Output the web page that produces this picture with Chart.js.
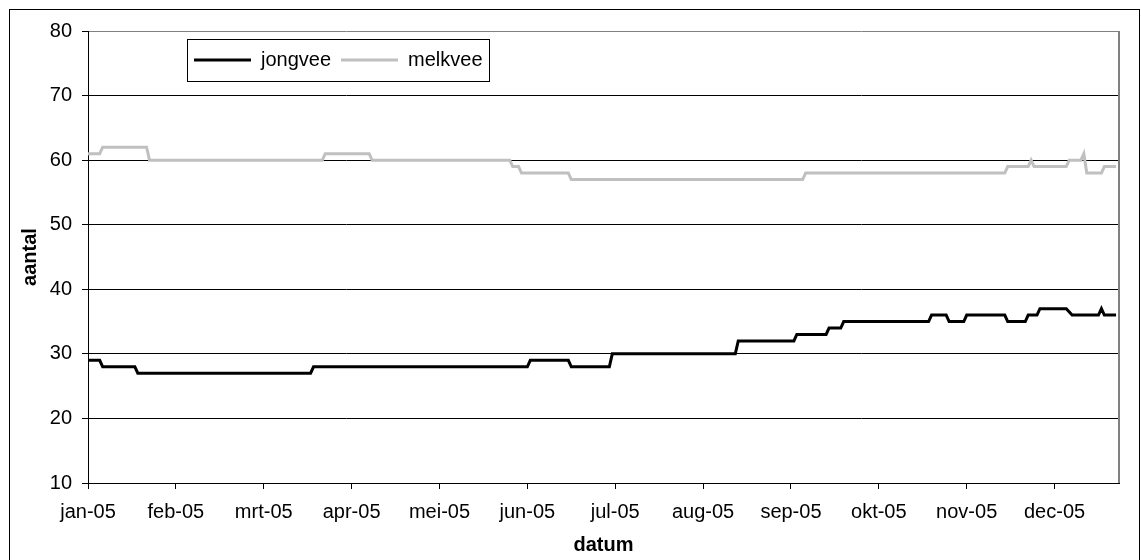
<!DOCTYPE html>
<html>
<head>
<meta charset="utf-8">
<script src="https://cdn.jsdelivr.net/npm/chart.js@4/dist/chart.umd.min.js"></script>
<style>
  html, body { margin: 0; padding: 0; background: #ffffff; }
  #wrap { width: 1141px; height: 560px; }
</style>
</head>
<body>
<div id="wrap"><canvas id="c" width="1141" height="560"></canvas></div>
<script>
// Month labels along the time axis, one every 30 records
const monthLabels = ['jan-05', 'feb-05', 'mrt-05', 'apr-05', 'mei-05', 'jun-05',
                     'jul-05', 'aug-05', 'sep-05', 'okt-05', 'nov-05', 'dec-05'];
const daysPerLabel = 30;

// Herd counts, stored at the days where the count changes
const jongveeDays   = [0, 4, 5, 16, 17, 76, 77, 150, 151, 164, 165, 178, 179, 221, 222, 241, 242, 252, 253, 257, 258,
                       287, 288, 293, 294, 299, 300, 313, 314, 320, 321, 324, 325, 334, 336, 345, 346, 347, 351];
const jongveeValues = [29, 29, 28, 28, 27, 27, 28, 28, 29, 29, 28, 28, 30, 30, 32, 32, 33, 33, 34, 34, 35,
                       35, 36, 36, 35, 35, 36, 36, 35, 35, 36, 36, 37, 37, 36, 36, 37, 36, 36];

const melkveeDays   = [0, 4, 5, 20, 21, 80, 81, 96, 97, 144, 145, 147, 148, 164, 165, 244, 245, 313, 314,
                       321, 322, 323, 334, 335, 339, 340, 341, 346, 347, 351];
const melkveeValues = [61, 61, 62, 62, 60, 60, 61, 61, 60, 60, 59, 59, 58, 58, 57, 57, 58, 58, 59,
                       59, 60, 59, 59, 60, 60, 61, 58, 58, 59, 59];

const toPoints = (days, values) => days.map((d, i) => ({ x: d, y: values[i] }));

const FONT = '"Liberation Sans", Arial, sans-serif';

// Outer frame, right edge of the plot area and the boxed legend
const decorations = {
  id: 'decorations',
  beforeDatasetsDraw(chart) {
    const { ctx, chartArea } = chart;
    ctx.save();
    ctx.strokeStyle = '#808080';
    ctx.lineWidth = 2;
    ctx.beginPath();
    ctx.moveTo(chartArea.right, chartArea.top);
    ctx.lineTo(chartArea.right, chartArea.bottom);
    ctx.stroke();
    ctx.restore();
  },
  afterDraw(chart) {
    const { ctx } = chart;
    ctx.save();
    ctx.strokeStyle = '#000000';
    ctx.lineWidth = 1;
    ctx.strokeRect(9.5, 9.5, 1130, 600);

    // legend
    const box = { x: 187.5, y: 39.5, w: 302, h: 42 };
    ctx.fillStyle = '#ffffff';
    ctx.fillRect(box.x, box.y, box.w, box.h);
    ctx.strokeRect(box.x, box.y, box.w, box.h);
    ctx.font = '20px ' + FONT;
    ctx.textBaseline = 'middle';
    ctx.textAlign = 'left';
    let x = 194;
    const y = 60;
    chart.data.datasets.forEach(ds => {
      ctx.strokeStyle = ds.borderColor;
      ctx.lineWidth = ds.borderWidth;
      ctx.beginPath();
      ctx.moveTo(x, y);
      ctx.lineTo(x + 57, y);
      ctx.stroke();
      ctx.fillStyle = '#000000';
      ctx.fillText(ds.label, x + 67, y);
      x += 67 + ctx.measureText(ds.label).width + 10;
    });
    ctx.restore();
  }
};

new Chart(document.getElementById('c'), {
  type: 'line',
  data: {
    datasets: [
      {
        label: 'jongvee',
        data: toPoints(jongveeDays, jongveeValues),
        borderColor: '#000000',
        backgroundColor: '#000000',
        borderWidth: 3,
        pointRadius: 0,
        tension: 0,
        fill: false
      },
      {
        label: 'melkvee',
        data: toPoints(melkveeDays, melkveeValues),
        borderColor: '#c0c0c0',
        backgroundColor: '#c0c0c0',
        borderWidth: 3,
        pointRadius: 0,
        tension: 0,
        fill: false
      }
    ]
  },
  options: {
    responsive: false,
    animation: false,
    devicePixelRatio: 1,
    layout: { padding: { top: 31, right: 22, left: 0, bottom: 0 } },
    plugins: {
      legend: { display: false },
      tooltip: { enabled: false }
    },
    scales: {
      x: {
        type: 'linear',
        min: 0,
        max: 352,
        afterFit(scale) { scale.height = 77; },
        afterBuildTicks(scale) {
          scale.ticks = monthLabels.map((_, i) => ({ value: i * daysPerLabel }));
        },
        grid: { drawOnChartArea: false, drawTicks: true, tickLength: 6, tickColor: '#000000', color: '#000000' },
        border: { display: true, color: '#000000', width: 1 },
        ticks: {
          autoSkip: false,
          maxRotation: 0,
          padding: 11,
          color: '#000000',
          font: { family: FONT, size: 20 },
          callback: (value) => monthLabels[Math.round(value / daysPerLabel)]
        },
        title: {
          display: true,
          text: 'datum',
          color: '#000000',
          font: { family: FONT, size: 20, weight: 'bold' },
          padding: { top: 0, bottom: 3 }
        }
      },
      y: {
        min: 10,
        max: 80,
        afterFit(scale) { scale.width = 88; },
        ticks: {
          stepSize: 10,
          padding: 10,
          color: '#000000',
          font: { family: FONT, size: 20 }
        },
        grid: {
          drawTicks: true,
          tickLength: 6,
          tickColor: '#000000',
          lineWidth: 1,
          color: (ctx) => (ctx.tick && ctx.tick.value === 80 ? '#808080' : '#000000')
        },
        border: { display: true, color: '#000000', width: 1 },
        title: {
          display: true,
          text: 'aantal',
          color: '#000000',
          font: { family: FONT, size: 20, weight: 'bold' },
          padding: { top: 18, bottom: 0 }
        }
      }
    }
  },
  plugins: [decorations]
});
</script>
</body>
</html>
